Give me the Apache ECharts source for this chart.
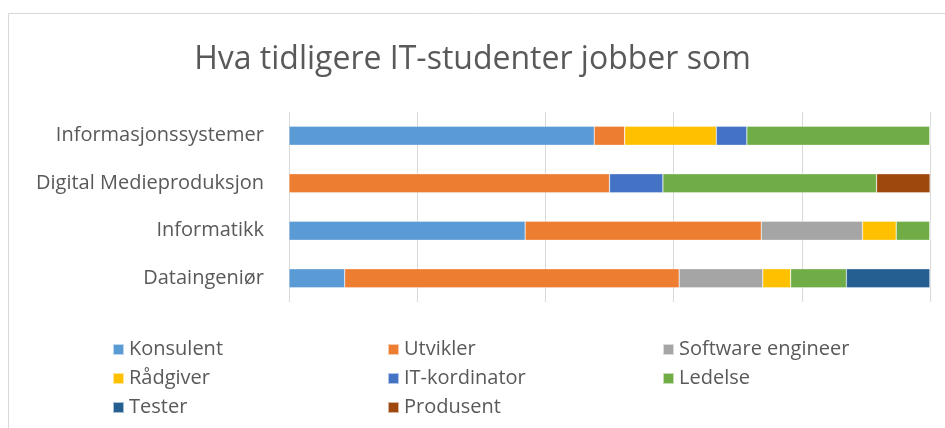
<!DOCTYPE html>
<html>
<head>
<meta charset="utf-8">
<script src="https://cdn.jsdelivr.net/npm/echarts@6/dist/echarts.min.js"></script>
<style>
    html, body { margin: 0; padding: 0; background: #fff; }
    #chart { width: 945px; height: 428px; }
</style>
</head>
<body>
<div id="chart"></div>
<script>
// studieretninger (fra topp til bunn)
const categories = ['Informasjonssystemer', 'Digital Medieproduksjon', 'Informatikk', 'Dataingeniør']
// antall personer per stilling, i samme rekkefølge som categories
const konsulent = [10, 0, 7, 2]
const utvikler = [1, 6, 7, 12]
const softwareEngineer = [0, 0, 3, 3]
const raadgiver = [3, 0, 1, 1]
const itKordinator = [1, 1, 0, 0]
const ledelse = [6, 4, 1, 2]
const tester = [0, 0, 0, 3]
const produsent = [0, 1, 0, 0]
const axisTicks = [0, 20, 40, 60, 80, 100]

const seriesDefs = [
    { name: 'Konsulent', data: konsulent, color: '#5B9BD5' },
    { name: 'Utvikler', data: utvikler, color: '#ED7D31' },
    { name: 'Software engineer', data: softwareEngineer, color: '#A5A5A5' },
    { name: 'Rådgiver', data: raadgiver, color: '#FFC000' },
    { name: 'IT-kordinator', data: itKordinator, color: '#4472C4' },
    { name: 'Ledelse', data: ledelse, color: '#70AD47' },
    { name: 'Tester', data: tester, color: '#255E91' },
    { name: 'Produsent', data: produsent, color: '#9E480E' }
]

// 100 % stablet: del på totalen per kategori
const totals = categories.map((c, i) => seriesDefs.reduce((s, d) => s + d.data[i], 0))

const font = '"Open Sans", "Noto Sans", sans-serif'
const chart = echarts.init(document.getElementById('chart'))
const option = {
    animation: false,
    title: {
        text: 'Hva tidligere IT-studenter jobber som',
        left: 'center',
        top: 39,
        textStyle: { fontFamily: font, fontSize: 32, fontWeight: 'normal', color: '#595959' }
    },
    graphic: [{
        type: 'rect',
        shape: { x: 8.5, y: 13.5, width: 960, height: 440 },
        style: { fill: 'none', stroke: '#d9d9d9', lineWidth: 1 },
        silent: true
    }],
    grid: { left: 289, right: 15, top: 112, bottom: 126 },
    xAxis: {
        type: 'value',
        min: axisTicks[0],
        max: axisTicks[axisTicks.length - 1],
        interval: axisTicks[1] - axisTicks[0],
        axisLabel: { show: false },
        axisLine: { show: false },
        axisTick: { show: false },
        splitLine: { lineStyle: { color: '#d9d9d9', width: 1 } }
    },
    yAxis: {
        type: 'category',
        data: categories,
        inverse: true,
        axisLine: { show: false },
        axisTick: { show: false },
        axisLabel: { fontFamily: font, fontSize: 20, color: '#595959', margin: 25 }
    },
    legend: {
        left: 107,
        top: 330,
        width: 850,
        itemWidth: 11,
        itemHeight: 11,
        itemGap: 0,
        icon: 'rect',
        textStyle: { fontFamily: font, fontSize: 20, color: '#595959', width: 258, lineHeight: 29, padding: [0, 0, 0, 0] },
        data: seriesDefs.map(d => d.name)
    },
    series: seriesDefs.map(d => ({
        name: d.name,
        type: 'bar',
        stack: 'total',
        barWidth: 19,
        itemStyle: { color: d.color, borderColor: 'rgba(255,255,255,0.6)', borderWidth: 0.5 },
        data: d.data.map((v, i) => v / totals[i] * 100)
    }))
}
chart.setOption(option)
</script>
</body>
</html>
